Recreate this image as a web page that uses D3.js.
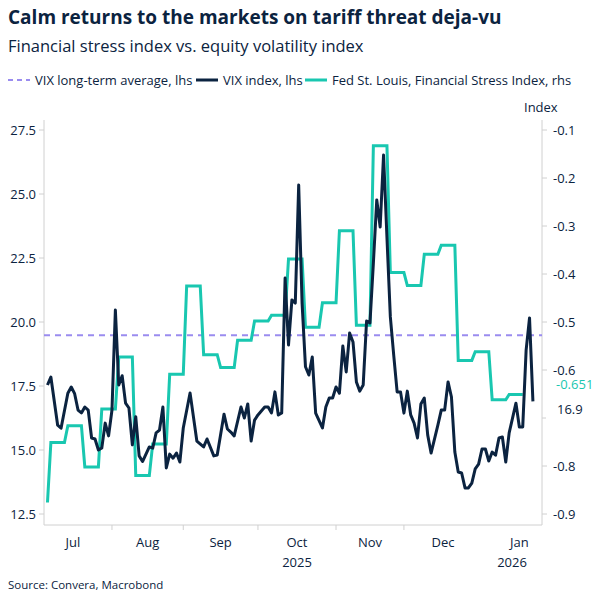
<!DOCTYPE html>
<html>
<head>
<meta charset="utf-8">
<script src="https://cdn.jsdelivr.net/npm/d3@7"></script>
<style>
  body { margin: 0; background: #fff; }
  text { font-family: "Open Sans", "Noto Sans", sans-serif; }
</style>
</head>
<body>
<div id="chart"></div>
<script>
// Data: x values are weekday offsets counted from 2025-07-01
const vixDays = [4,5,7,8,10,11,12,13,14,15,16,17,18,19,20,21,22,23,24,25,26,27,28,29,30,31,32,34,35,36,37,38,39,40,41,42,43,44,46,48,50,51,53,54,56,57,58,59,61,62,63,64,65,66,68,69,70,71,72,73,74,75,76,77,78,79,80,81,82,83,85,86,87,88,89,90,91,92,93,94,95,96,97,98,99,100,101,102,103,104,105,106,107,108,109,110,111,112,113,114,115,116,117,119,120,121,122,123,124,125,126,127,128,129,130,131,132,133,134,135,136,137,138,139,140,142,143,144,145,146,147];
const vixValues = [17.54,17.85,15.97,15.85,17.22,17.46,17.2,16.56,16.45,16.68,16.56,15.47,15.43,15.0,15.08,16.05,15.55,16.56,20.47,17.54,17.9,16.83,16.64,15.2,16.3,14.77,14.55,15.12,15.07,15.67,15.78,16.68,14.3,14.84,14.68,14.88,14.53,15.86,17.23,15.35,15.12,15.43,14.77,14.8,16.4,15.82,15.7,15.55,16.68,16.25,16.8,15.35,16.17,16.37,16.68,16.68,16.45,17.27,16.37,16.45,21.72,19.1,20.86,20.74,25.35,20.74,18.25,17.93,18.63,16.44,15.86,16.68,17.03,17.03,17.46,17.22,19.06,18.05,19.57,19.22,17.66,17.3,17.54,20.04,19.96,22.3,24.77,23.71,26.52,23.3,20.2,18.7,17.27,17.27,16.44,17.3,16.37,16.05,15.47,16.8,17.03,15.59,14.88,15.97,16.56,16.56,17.66,17.07,14.92,14.14,14.1,13.52,13.52,13.71,14.26,14.45,15.04,15.04,14.57,14.92,14.8,15.47,15.51,14.53,15.67,16.83,15.9,15.9,18.9,20.16,16.9];

const fsiFirstDay = 4;
const fsiFirstValue = -0.876;
const fsiWeekStarts = [5,10,15,20,25,30,35,40,45,50,55,60,65,70,75,80,85,90,95,100,105,110,115,120,125,130,135,140];
const fsiWeekValues = [-0.751,-0.716,-0.802,-0.681,-0.573,-0.82,-0.754,-0.609,-0.425,-0.568,-0.595,-0.538,-0.498,-0.486,-0.369,-0.511,-0.46,-0.31,-0.507,-0.133,-0.397,-0.424,-0.359,-0.34,-0.58,-0.562,-0.662,-0.651];

const vixLongTermAvg = 19.48;
const leftTicks = [12.5, 15.0, 17.5, 20.0, 22.5, 25.0, 27.5];
const rightTicks = [-0.9, -0.8, -0.7, -0.6, -0.5, -0.4, -0.3, -0.2, -0.1];
const monthNames = ['Jul', 'Aug', 'Sep', 'Oct', 'Nov', 'Dec', 'Jan'];
const monthStarts = ['2025-07-01','2025-08-01','2025-09-01','2025-10-01','2025-11-01','2025-12-01','2026-01-01','2026-02-01'];

// weekday index from 2025-07-01
const weekdayIndex = s => {
    let d = new Date('2025-07-01T00:00:00Z'), end = new Date(s + 'T00:00:00Z'), n = 0;
    while (d < end) { const w = d.getUTCDay(); if (w !== 0 && w !== 6) n++; d.setUTCDate(d.getUTCDate() + 1); }
    return n;
};
const monthIdx = monthStarts.map(weekdayIndex);

const W = 604, H = 604;
const pLeft = 44, pRight = 542, pTop = 120, pBottom = 525;
const svg = d3.select('#chart').append('svg').attr('width', W).attr('height', H);

const x = d3.scaleLinear().domain([0, 132]).range([33.9, 482]);
const yL = d3.scaleLinear().domain([12.5, 27.5]).range([514, 130]);
const yR = d3.scaleLinear().domain([-0.9, -0.1]).range([514, 130]);

const navy = '#0b2340', teal = '#19c7b0', purple = '#9a8cef', grey = '#d0d0d0';

// Titles
svg.append('text').attr('x', 8).attr('y', 24).attr('font-size', 19).attr('font-weight', 700)
    .attr('fill', navy).text('Calm returns to the markets on tariff threat deja-vu');
svg.append('text').attr('x', 8).attr('y', 52).attr('font-size', 16.5).attr('fill', navy)
    .text('Financial stress index vs. equity volatility index');

// Legend
const legend = [
    { label: 'VIX long-term average, lhs', color: purple, dash: '5,4', w: 2, x: 8 },
    { label: 'VIX index, lhs', color: navy, dash: null, w: 3, x: 196 },
    { label: 'Fed St. Louis, Financial Stress Index, rhs', color: teal, dash: null, w: 3, x: 305 }
];
legend.forEach(l => {
    svg.append('line').attr('x1', l.x).attr('x2', l.x + 22).attr('y1', 80).attr('y2', 80)
        .attr('stroke', l.color).attr('stroke-width', l.w).attr('stroke-dasharray', l.dash);
    svg.append('text').attr('x', l.x + 27).attr('y', 85).attr('font-size', 13).attr('fill', navy).text(l.label);
});
svg.append('text').attr('x', 524).attr('y', 112).attr('font-size', 13).attr('fill', navy).text('Index');

// Axes frame
svg.append('line').attr('x1', pLeft).attr('x2', pLeft).attr('y1', pTop).attr('y2', pBottom).attr('stroke', grey);
svg.append('line').attr('x1', pRight).attr('x2', pRight).attr('y1', pTop).attr('y2', pBottom).attr('stroke', grey);
svg.append('line').attr('x1', pLeft).attr('x2', pRight).attr('y1', pBottom).attr('y2', pBottom).attr('stroke', grey);

leftTicks.forEach(t => {
    svg.append('line').attr('x1', pLeft - 5).attr('x2', pLeft).attr('y1', yL(t)).attr('y2', yL(t)).attr('stroke', grey);
    svg.append('text').attr('x', 36).attr('y', yL(t) + 5).attr('text-anchor', 'end').attr('font-size', 13)
        .attr('fill', navy).text(t.toFixed(1));
});
rightTicks.forEach(t => {
    svg.append('line').attr('x1', pRight).attr('x2', pRight + 5).attr('y1', yR(t)).attr('y2', yR(t)).attr('stroke', grey);
    svg.append('text').attr('x', 553).attr('y', yR(t) + 5).attr('font-size', 13)
        .attr('fill', navy).text(t.toFixed(1));
});

// Month ticks and labels
monthIdx.slice(1, 6).forEach(i => {
    svg.append('line').attr('x1', x(i)).attr('x2', x(i)).attr('y1', pBottom).attr('y2', pBottom + 5).attr('stroke', grey);
});
monthNames.forEach((m, k) => {
    const cx = (x(monthIdx[k]) + x(monthIdx[k + 1])) / 2;
    svg.append('text').attr('x', cx).attr('y', 547).attr('text-anchor', 'middle').attr('font-size', 13)
        .attr('fill', navy).text(m);
});
svg.append('text').attr('x', 297).attr('y', 567).attr('text-anchor', 'middle').attr('font-size', 13).attr('fill', navy).text('2025');
svg.append('text').attr('x', 512).attr('y', 567).attr('text-anchor', 'middle').attr('font-size', 13).attr('fill', navy).text('2026');

// Long-term average
svg.append('line').attr('x1', pLeft).attr('x2', pRight).attr('y1', yL(vixLongTermAvg)).attr('y2', yL(vixLongTermAvg))
    .attr('stroke', purple).attr('stroke-width', 2).attr('stroke-dasharray', '6,5');

// FSI line
const fsiPts = [[fsiFirstDay, fsiFirstValue]];
fsiWeekStarts.forEach((s, k) => { fsiPts.push([s, fsiWeekValues[k]], [s + 4, fsiWeekValues[k]]); });
svg.append('path').datum(fsiPts)
    .attr('d', d3.line().x(d => x(d[0])).y(d => yR(d[1])))
    .attr('fill', 'none').attr('stroke', teal).attr('stroke-width', 3).attr('stroke-linejoin', 'miter');

// VIX line
svg.append('path').datum(vixDays.map((d, i) => [d, vixValues[i]]))
    .attr('d', d3.line().x(d => x(d[0])).y(d => yL(d[1])))
    .attr('fill', 'none').attr('stroke', navy).attr('stroke-width', 3).attr('stroke-linejoin', 'round');

// End labels (white boxes hide the axis labels beneath)
const lastFsi = fsiWeekValues[fsiWeekValues.length - 1];
const lastVix = vixValues[vixValues.length - 1];
svg.append('rect').attr('x', 546).attr('y', 375).attr('width', 58).attr('height', 19).attr('fill', '#fff');
svg.append('rect').attr('x', 546).attr('y', 397).attr('width', 58).attr('height', 30).attr('fill', '#fff');
svg.append('text').attr('x', 556).attr('y', 389).attr('font-size', 13).attr('fill', teal)
    .text(lastFsi.toFixed(3));
svg.append('text').attr('x', 557).attr('y', 414).attr('font-size', 13).attr('fill', navy).text(lastVix.toFixed(1));

// Source
svg.append('text').attr('x', 8).attr('y', 589).attr('font-size', 11.5).attr('fill', navy).text('Source: Convera, Macrobond');
</script>
</body>
</html>
